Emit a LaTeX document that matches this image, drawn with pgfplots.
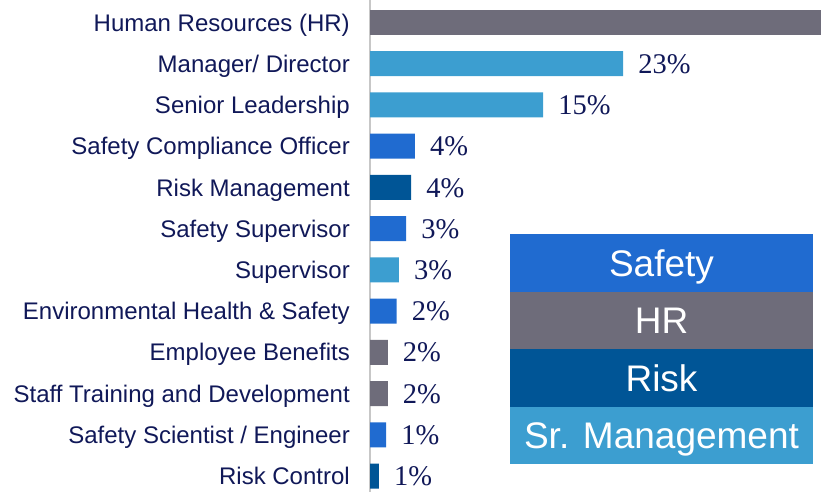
\documentclass[border=0pt]{standalone}
\usepackage{fontspec}
\setmainfont{Liberation Sans}
\newfontfamily\valfont{Liberation Serif}
\usepackage{pgfplots}
\pgfplotsset{compat=1.18}

\definecolor{navy}{RGB}{16,24,88}
\definecolor{safety}{RGB}{32,107,208}
\definecolor{hrgray}{RGB}{110,108,122}
\definecolor{risk}{RGB}{0,85,150}
\definecolor{srmgmt}{RGB}{60,158,208}

\begin{document}
\begin{tikzpicture}[x=1pt,y=1pt]
\begin{axis}[
    at={(370pt,-492pt)}, anchor=south west,
    scale only axis, width=451pt, height=492pt,
    xbar, bar width=25pt, bar shift=0pt,
    xmin=0, xmax=40.63,
    ymin=-0.546, ymax=11.388, y dir=reverse,
    hide x axis,
    axis y line*=left,
    y axis line style={draw=black!22, line width=2pt, -},
    major tick length=0pt,
    ytick={0,...,11},
    yticklabels={Human Resources (HR), Manager/ Director, Senior Leadership,
      Safety Compliance Officer, Risk Management, Safety Supervisor, Supervisor,
      Environmental Health \& Safety, Employee Benefits,
      Staff Training and Development, Safety Scientist / Engineer, Risk Control},
    yticklabel style={font=\fontsize{24}{27}\selectfont, text=navy,
      inner sep=0pt, text height=17.2pt, text depth=0pt, xshift=-20pt},
    point meta=explicit symbolic,
    every node near coord/.append style={font=\valfont\fontsize{28.5}{31}\selectfont,
      text=navy, anchor=west, inner sep=0pt, xshift=15pt,
      text height=19.2pt, text depth=0pt},
  ]
  % HR bar runs past the frame, no label shown
  \addplot[draw=none, fill=hrgray] coordinates {(47,0)};
  \addplot[draw=none, fill=hrgray, nodes near coords] coordinates {
    (1.6,8) [2\%] (1.6,9) [2\%]};
  \addplot[draw=none, fill=srmgmt, nodes near coords] coordinates {
    (22.8,1) [23\%] (15.6,2) [15\%] (2.6,6) [3\%]};
  \addplot[draw=none, fill=safety, nodes near coords] coordinates {
    (4.05,3) [4\%] (3.25,5) [3\%] (2.4,7) [2\%] (1.45,10) [1\%]};
  \addplot[draw=none, fill=risk, nodes near coords] coordinates {
    (3.7,4) [4\%] (0.8,11) [1\%]};
\end{axis}
% category key
\fill[safety] (510,-234) rectangle (813,-292);
\fill[hrgray] (510,-292) rectangle (813,-349);
\fill[risk]   (510,-349) rectangle (813,-407);
\fill[srmgmt] (510,-407) rectangle (813,-464);
\tikzset{keytext/.style={text=white, font=\fontsize{37}{41}\selectfont,
  inner sep=0pt, text height=26.5pt, text depth=0pt}}
\node[keytext] at (661.5,-263) {Safety};
\node[keytext] at (661.5,-320.5) {HR};
\node[keytext] at (661.5,-378) {Risk};
\node[keytext] at (661.5,-435.5) {Sr. Management};
\pgfresetboundingbox
\path[use as bounding box] (0,0) rectangle (821,-492);
\end{tikzpicture}
\end{document}
